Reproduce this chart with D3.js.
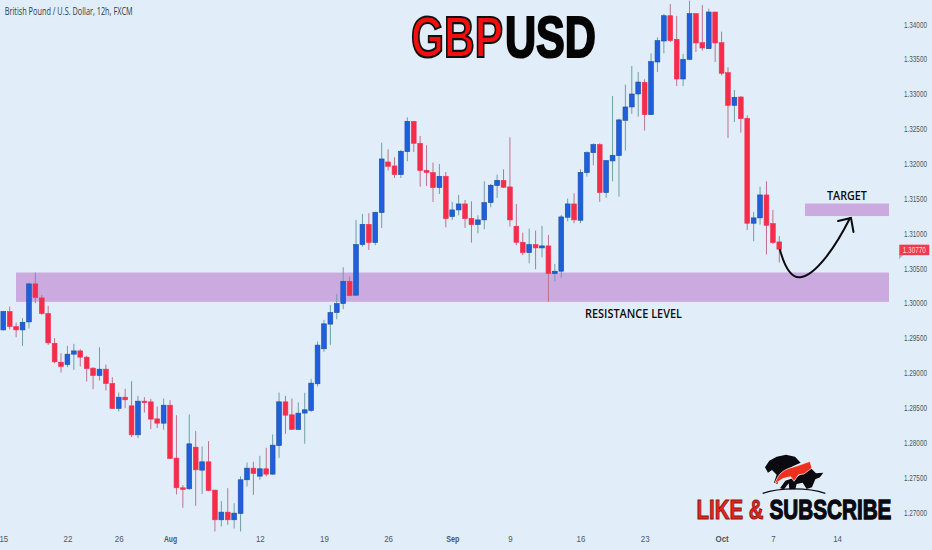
<!DOCTYPE html>
<html><head><meta charset="utf-8">
<script src="https://cdnjs.cloudflare.com/ajax/libs/d3/7.8.5/d3.min.js"></script>
<style>html,body{margin:0;padding:0;background:#e1eef9;overflow:hidden}svg{display:block}</style>
</head><body><svg id="c" width="932" height="550"></svg>
<script>
const opens=[1.29612,1.29875,1.29660,1.29612,1.29727,1.30272,1.30071,1.29847,1.29421,1.29149,
1.29115,1.29264,1.29311,1.29221,1.29063,1.28958,1.29049,1.28843,1.28485,1.28647,
1.28523,1.28107,1.28590,1.28580,1.28336,1.28274,1.28532,1.27773,1.27347,1.27333,
1.27930,1.27600,1.27720,1.27314,1.26888,1.26998,1.26888,1.26979,1.27462,1.27629,
1.27514,1.27620,1.27543,1.27954,1.28580,1.28394,1.28184,1.28419,1.28456,1.28839,
1.29341,1.29695,1.29861,1.29990,1.30310,1.30110,1.30836,1.31127,1.30865,1.31295,
1.32021,1.31964,1.31840,1.32169,1.32604,1.32289,1.31902,1.31868,1.31653,1.31816,
1.31237,1.31333,1.31419,1.31213,1.31123,1.31190,1.31438,1.31682,1.31758,1.31663,
1.31099,1.30869,1.30721,1.30836,1.30788,1.30817,1.30420,1.30454,1.31228,1.31419,
1.31185,1.31868,1.32155,1.32270,1.31582,1.32036,1.32112,1.32619,1.32810,1.32996,
1.33164,1.32700,1.33455,1.33756,1.34119,1.33780,1.33211,1.33493,1.34148,1.33732,
1.33646,1.34172,1.33732,1.33302,1.32834,1.32953,1.32647,1.31142,1.31219,1.31548,
1.31137,1.30874];
const closes=[1.29875,1.29660,1.29612,1.29722,1.30272,1.30076,1.29847,1.29426,1.29154,1.29087,
1.29264,1.29311,1.29221,1.29058,1.28958,1.29049,1.28843,1.28485,1.28647,1.28609,
1.28107,1.28590,1.28571,1.28332,1.28274,1.28532,1.27768,1.27347,1.27338,1.27978,
1.27605,1.27720,1.27309,1.26888,1.26998,1.26888,1.26984,1.27462,1.27629,1.27553,
1.27620,1.27543,1.27959,1.28580,1.28389,1.28184,1.28418,1.28466,1.28849,1.29394,
1.29699,1.29861,1.29990,1.30310,1.30105,1.30836,1.31127,1.30865,1.31300,1.32064,
1.31959,1.31840,1.32174,1.32604,1.32289,1.31897,1.31868,1.31653,1.31816,1.31209,
1.31333,1.31419,1.31209,1.31123,1.31190,1.31438,1.31687,1.31758,1.31658,1.31190,
1.30869,1.30721,1.30836,1.30788,1.30817,1.30420,1.30454,1.31233,1.31419,1.31190,
1.31873,1.32155,1.32270,1.31582,1.32041,1.32117,1.32624,1.32810,1.32996,1.33168,
1.32700,1.33460,1.33761,1.34119,1.33761,1.33211,1.33493,1.34148,1.33728,1.33656,
1.34172,1.33728,1.33293,1.32834,1.32949,1.32643,1.31142,1.31219,1.31548,1.31113,
1.30865,1.30770];
const highs=[1.29885,1.29947,1.29718,1.29780,1.30291,1.30434,1.30114,1.29957,1.29493,1.29278,
1.29383,1.29412,1.29335,1.29240,1.29077,1.29364,1.29115,1.28934,1.28714,1.28767,
1.28876,1.28666,1.28647,1.28623,1.28513,1.28628,1.28604,1.28389,1.27385,1.28399,
1.28160,1.27940,1.28016,1.27318,1.27156,1.27342,1.27127,1.27510,1.27710,1.27720,
1.27806,1.27921,1.28112,1.28714,1.28666,1.28628,1.28571,1.28710,1.28910,1.29445,
1.29756,1.29971,1.30129,1.30511,1.30377,1.31190,1.31276,1.31285,1.31300,1.32298,
1.32203,1.32088,1.32193,1.32661,1.32604,1.32394,1.32260,1.32012,1.31992,1.31878,
1.31448,1.31548,1.31476,1.31457,1.31256,1.31744,1.31706,1.31840,1.31916,1.32375,
1.31419,1.31008,1.31065,1.31037,1.31104,1.30975,1.30559,1.31261,1.31495,1.31572,
1.31916,1.32174,1.32289,1.32289,1.32050,1.32968,1.32643,1.33130,1.33398,1.33312,
1.33207,1.33579,1.33809,1.34143,1.34287,1.34115,1.33570,1.34334,1.34153,1.34272,
1.34220,1.34172,1.33890,1.33379,1.33054,1.32968,1.32690,1.31305,1.31668,1.31744,
1.31333,1.30960];
const lows=[1.29603,1.29622,1.29507,1.29383,1.29632,1.29995,1.29827,1.29397,1.29135,1.29001,
1.29077,1.29039,1.29087,1.28872,1.28762,1.28886,1.28743,1.28480,1.28442,1.28489,
1.28074,1.28059,1.28427,1.28188,1.28203,1.28179,1.27758,1.27252,1.27060,1.27318,
1.27089,1.27261,1.27299,1.26721,1.26793,1.26817,1.26764,1.26721,1.27366,1.27247,
1.27462,1.27510,1.27534,1.27777,1.28121,1.28179,1.28179,1.27978,1.28437,1.28800,
1.29297,1.29398,1.29765,1.29909,1.30105,1.30105,1.30807,1.30759,1.30826,1.31075,
1.31897,1.31792,1.31792,1.32031,1.32164,1.31667,1.31677,1.31448,1.31562,1.31084,
1.31190,1.31256,1.31075,1.30865,1.30998,1.31056,1.31371,1.31505,1.31648,1.31094,
1.30826,1.30683,1.30568,1.30482,1.30654,1.30014,1.30310,1.30358,1.31170,1.31142,
1.31142,1.31811,1.31973,1.31448,1.31505,1.31744,1.31524,1.32184,1.32710,1.32671,
1.32471,1.32700,1.33312,1.33579,1.33742,1.33111,1.33111,1.33484,1.33598,1.33618,
1.33641,1.33455,1.33264,1.32366,1.32595,1.32442,1.31046,1.30884,1.31123,1.30693,
1.30846,1.30578];
const dateTickBars=[0,10,18,26,40,50,60,70,79,90,100,112,120,130];
const dateTickLabels=["15","22","26","Aug","12","19","26","Sep","9","16","23","Oct","7","14"];
const monthLabels=["Aug","Sep","Oct"];
const priceTicks=[1.27,1.275,1.28,1.285,1.29,1.295,1.30,1.305,1.31,1.315,1.32,1.325,1.33,1.335,1.34];
const resistanceZone=[1.30015,1.30435];
const targetZone=[1.31245,1.31425];
const lastPrice=1.30770;

const svg=d3.select("#c");
const x=d3.scaleLinear().domain([0,121]).range([3.3,779.3]);
const y=d3.scaleLinear().domain([1.27,1.34]).range([512,24]);
const px=i=>x(i);

svg.append("rect").attr("width",932).attr("height",550).attr("fill","#e1eef9");

function zone(z,x0,x1){svg.append("rect").attr("x",x0).attr("width",x1-x0)
 .attr("y",y(z[1])).attr("height",y(z[0])-y(z[1])).attr("fill","#cbaae0");}
zone(resistanceZone,16,889);
zone(targetZone,805,889);

const bars=d3.range(opens.length);
const g=svg.append("g");
g.selectAll("line.w").data(bars).join("line").attr("class","w")
 .attr("x1",px).attr("x2",px).attr("y1",i=>y(highs[i])).attr("y2",i=>y(lows[i]))
 .attr("stroke",i=>closes[i]>=opens[i]?"#6f9fa4":"#b9748c").attr("stroke-width",1);
g.selectAll("rect.b").data(bars).join("rect").attr("class","b")
 .attr("x",i=>px(i)-2.4).attr("width",4.8)
 .attr("y",i=>y(Math.max(opens[i],closes[i])))
 .attr("height",i=>Math.max(1.5,Math.abs(y(opens[i])-y(closes[i]))))
 .attr("fill",i=>closes[i]>=opens[i]?"#1f5fdc":"#f62d49")
 .attr("stroke",i=>closes[i]>=opens[i]?"#1d4f9f":"#ee3355").attr("stroke-width",.6);

// squeeze a text horizontally to a target width with a transform
function squeeze(sel,len){sel.each(function(d,i){const w=this.getComputedTextLength();
  const L=typeof len==="function"?len(d,i):len;
  d3.select(this).attr("transform",`scale(${L/w},1)`);});}

const yAxis=d3.axisRight(y).tickValues(priceTicks).tickFormat(d3.format(".5f")).tickSize(0).tickPadding(0);
const ya=svg.append("g").attr("transform","translate(904,0)").call(yAxis);
ya.select(".domain").remove();
ya.selectAll("text").attr("font-family","Liberation Sans").attr("font-size",9.5).attr("fill","#4d5763").call(squeeze,23);
const xAxis=d3.axisBottom(x).tickValues(dateTickBars).tickFormat((d,i)=>dateTickLabels[i]).tickSize(0).tickPadding(0);
const xa=svg.append("g").attr("transform","translate(0,535)").call(xAxis);
xa.select(".domain").remove();
xa.selectAll("text").attr("font-family","Liberation Sans").attr("font-size",9.5).attr("fill","#4d5763")
 .attr("font-weight",(d,i)=>monthLabels.includes(dateTickLabels[i])?"700":"400")
 .call(squeeze,(d,i)=>dateTickLabels[i].length*4.4);

const ty=y(lastPrice);
svg.append("path").attr("d",`M899 ${ty+5}h5l-5 5z`).attr("fill","#a9b4bf");
svg.append("rect").attr("x",899.3).attr("y",ty-4.5).attr("width",30).attr("height",10.5).attr("fill","#f23a4c");
svg.append("g").attr("transform",`translate(914.3,${ty+4})`).append("text").attr("text-anchor","middle").attr("font-family","Liberation Sans")
 .attr("font-size",9.5).attr("fill","#fbdfe0").text(d3.format(".5f")(lastPrice)).call(squeeze,23);

svg.append("path").attr("d","M780 250C785 268 792 278 800 277.3C815 276 835 248 850 218")
 .attr("fill","none").attr("stroke","#0b0b10").attr("stroke-width",2).attr("stroke-linecap","round");
svg.append("path").attr("d","M838 221L851 218L853.5 232")
 .attr("fill","none").attr("stroke","#0b0b10").attr("stroke-width",2).attr("stroke-linecap","round");

function label(t,x0,yb,len,fs,fam,w,fill){return svg.append("g").attr("transform",`translate(${x0},${yb})`).append("text")
 .attr("font-family",fam).attr("font-size",fs).attr("font-weight",w).attr("fill",fill).text(t).call(squeeze,len);}
label("British Pound / U.S. Dollar, 12h, FXCM",4.7,15,128,10.5,"Open Sans",500,"#2f3a46");
label("TARGET",827,199.5,40,13,"Open Sans",600,"#0a0a0f");
label("RESISTANCE LEVEL",585,317.5,97,13,"Open Sans",600,"#0a0a0f");
label("GBP",411,57,92,58,"Liberation Sans",700,"#f40f0f").attr("stroke","#111").attr("stroke-width",2.2);
label("USD",505,57,91,58,"Liberation Sans",700,"#050505").attr("stroke","#050505").attr("stroke-width",2.2);
label("LIKE &",696.5,518.5,67,28,"Liberation Sans",700,"#e9241a").attr("stroke","#8a1710").attr("stroke-width",1);
label("SUBSCRIBE",769.5,518.5,122,28,"Liberation Sans",700,"#0a0a10").attr("stroke","#0a0a10").attr("stroke-width",1.3);

const logo=svg.append("g").attr("transform","translate(680,440) scale(.3333)");
logo.append("path").attr("fill","#0a0a10").attr("d","M255 82L268 62L290 50L318 44L345 50L362 68L340 78L315 92L300 112L292 132L282 128L290 104L276 90L264 98Z");
logo.append("path").attr("fill","#0a0a10").attr("d","M300 145L316 122L352 110L392 84L408 100L430 98L420 112L406 118L396 142L380 147L368 128L350 132L346 148L328 148L326 130L312 148Z");
logo.append("path").attr("fill","#f0301e").attr("stroke","#fff").attr("stroke-width",2).attr("d","M284 132C292 108 304 92 330 84L356 76L390 64L396 84L372 102L356 104L342 124L332 110L308 116Z");
logo.append("path").attr("fill","none").attr("stroke","#0a0a10").attr("stroke-width",4).attr("d","M248 160C300 142 385 142 436 160");
</script></body></html>
